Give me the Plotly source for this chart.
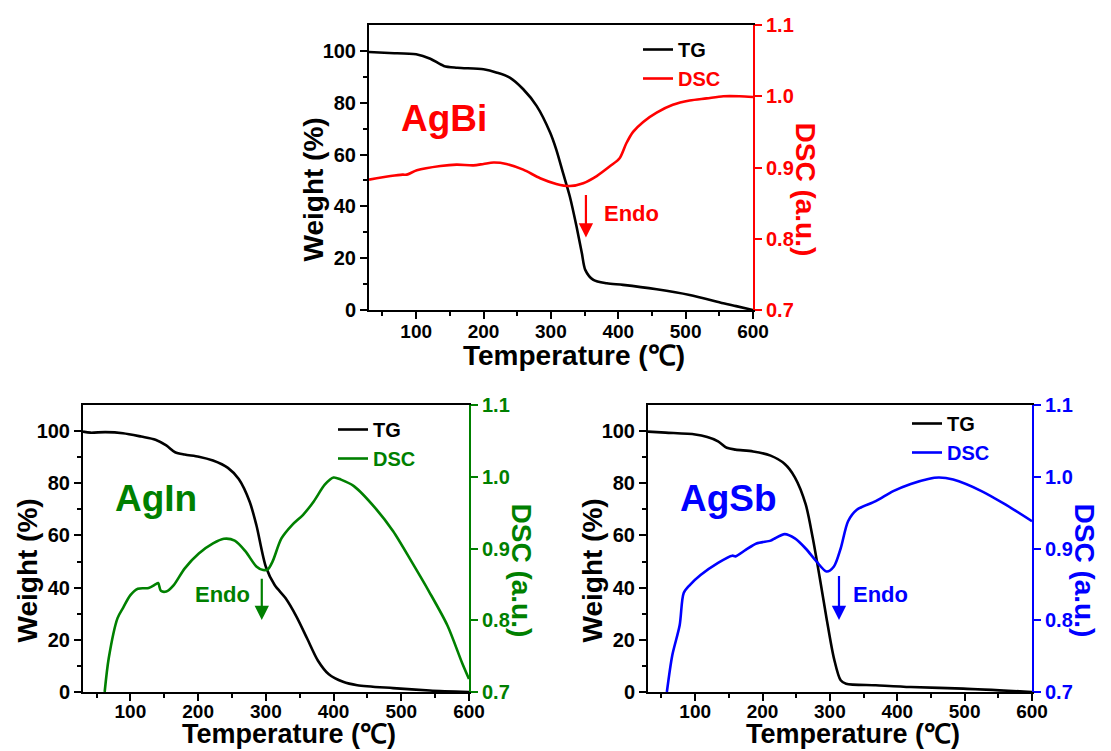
import plotly.graph_objects as go

# ---------------- data ----------------
# AgBi
agbi_tg_temp = [30, 60, 100, 121, 141, 161, 200, 220, 239, 259, 279, 299, 308, 318, 328, 338, 346, 351, 363, 383, 407, 457, 506, 556, 575, 600]
agbi_tg = [99.6, 99.2, 98.7, 97.0, 94.2, 93.5, 92.9, 91.6, 89.7, 85.2, 78.7, 68.4, 61.9, 52.9, 43.9, 32.3, 21.9, 15.5, 11.6, 10.3, 9.7, 8.0, 5.8, 2.6, 1.5, 0.0]
agbi_dsc_temp = [30, 62, 80, 86, 101, 136, 160, 185, 200, 215, 234, 259, 284, 308, 328, 348, 368, 388, 402, 412, 422, 437, 457, 481, 506, 531, 556, 580, 600]
agbi_dsc = [0.883, 0.888, 0.890, 0.890, 0.896, 0.902, 0.904, 0.903, 0.905, 0.907, 0.905, 0.897, 0.885, 0.877, 0.874, 0.878, 0.888, 0.902, 0.913, 0.934, 0.950, 0.964, 0.977, 0.988, 0.994, 0.997, 1.000, 1.000, 0.999]

# AgIn
agin_tg_temp = [30, 41, 63, 89, 116, 137, 153, 166, 180, 201, 222, 244, 260, 276, 286, 300, 313, 329, 345, 361, 377, 393, 414, 435, 488, 542, 600]
agin_tg = [99.8, 99.4, 99.6, 99.2, 97.9, 96.7, 94.5, 91.9, 91.0, 90.2, 88.7, 85.9, 81.6, 73.0, 64.0, 48.0, 41.0, 36.0, 29.0, 20.5, 12.0, 6.8, 3.9, 2.6, 1.5, 0.6, 0.0]
agin_dsc_temp = [62, 68, 81, 89, 100, 111, 127, 137, 141, 145, 153, 164, 180, 201, 222, 238, 254, 270, 286, 296, 303, 310, 323, 339, 355, 371, 387, 400, 411, 430, 462, 488, 515, 541, 568, 590, 600]
agin_dsc = [0.700, 0.747, 0.803, 0.817, 0.835, 0.844, 0.845, 0.850, 0.852, 0.841, 0.840, 0.849, 0.872, 0.893, 0.907, 0.9135, 0.911, 0.896, 0.875, 0.870, 0.871, 0.882, 0.914, 0.933, 0.947, 0.966, 0.989, 0.999, 0.996, 0.987, 0.956, 0.924, 0.882, 0.840, 0.793, 0.740, 0.718]

# AgSb
agsb_tg_temp = [30, 56, 100, 118, 134, 147, 160, 186, 212, 233, 248, 264, 274.5, 285, 295, 306, 316, 324, 368, 420, 498, 600]
agsb_tg = [99.8, 99.4, 98.7, 97.7, 96.1, 93.6, 92.9, 92.2, 90.6, 87.4, 82.3, 72.0, 59.1, 43.7, 28.3, 12.9, 4.5, 3.2, 2.6, 1.9, 1.3, 0.0]
agsb_dsc_temp = [58, 66, 77, 83, 92, 108, 134, 155, 160, 175, 191, 212, 217, 233, 248, 264, 280, 295, 306, 316, 327, 340, 368, 394, 420, 446, 462, 483, 525, 561, 600]
agsb_dsc = [0.700, 0.751, 0.793, 0.838, 0.849, 0.863, 0.880, 0.890, 0.889, 0.898, 0.907, 0.911, 0.9135, 0.920, 0.914, 0.900, 0.882, 0.868, 0.875, 0.900, 0.938, 0.954, 0.966, 0.980, 0.990, 0.997, 0.999, 0.996, 0.980, 0.961, 0.938]

x_ticks = [100, 200, 300, 400, 500, 600]
x_minor = [50, 150, 250, 350, 450, 550]
w_ticks = [0, 20, 40, 60, 80, 100]
w_minor = [10, 30, 50, 70, 90]
dsc_ticks = [0.7, 0.8, 0.9, 1.0, 1.1]

FONT = "Liberation Sans, Arial, sans-serif"
RED, GREEN, BLUE = "#ff0000", "#008000", "#0000ff"
W, H = 1111, 751

# panel boxes in pixels: (left, right, top, bottom)
panels = {
    "top": (369, 753, 25, 310),
    "bl": (83, 469, 405, 692),
    "br": (648, 1032, 405, 692),
}


def px_x(v):
    return v / W


def px_y(v):
    return 1 - v / H


def bold(size, color="black"):
    return dict(family=FONT, size=size, color=color, weight="bold")


fig = go.Figure()

layout = dict(
    width=W, height=H, margin=dict(l=0, r=0, t=0, b=0, autoexpand=False),
    paper_bgcolor="white", plot_bgcolor="white", showlegend=True,
)

# (panel key, color, tg/dsc data, label, legend id)
specs = [
    ("top", RED, agbi_tg_temp, agbi_tg, agbi_dsc_temp, agbi_dsc, "AgBi", "legend"),
    ("bl", GREEN, agin_tg_temp, agin_tg, agin_dsc_temp, agin_dsc, "AgIn", "legend2"),
    ("br", BLUE, agsb_tg_temp, agsb_tg, agsb_dsc_temp, agsb_dsc, "AgSb", "legend3"),
]

annotations = []

for i, (key, col, tgt, tg, dst, ds, label, leg) in enumerate(specs):
    l, r, t, b = panels[key]
    xname = "x" + ("" if i == 0 else str(i + 1))
    yname = "y" + ("" if i == 0 else str(2 * i + 1))
    y2name = "y" + str(2 * i + 2)

    layout["xaxis" + ("" if i == 0 else str(i + 1))] = dict(
        domain=[px_x(l), px_x(r)], anchor=yname, range=[30, 600], automargin=False,
        tickvals=x_ticks, ticks="outside", ticklen=7, tickwidth=2, tickcolor="black",
        ticklabelstandoff=-4 if key == "top" else -6,
        showline=True, linecolor="black", linewidth=2, mirror=True,
        showgrid=False, zeroline=False, tickfont=bold(19),
        minor=dict(tickvals=x_minor, ticks="outside", ticklen=4, tickwidth=2, tickcolor="black"),
    )
    layout["yaxis" + ("" if i == 0 else str(2 * i + 1))] = dict(
        domain=[px_y(b), px_y(t)], anchor=xname, range=[0, 110], automargin=False,
        tickvals=w_ticks, ticks="outside", ticklen=7, tickwidth=2, tickcolor="black",
        showline=True, linecolor="black", linewidth=2,
        showgrid=False, zeroline=False, tickfont=bold(20),
        minor=dict(tickvals=w_minor, ticks="outside", ticklen=4, tickwidth=2, tickcolor="black"),
    )
    layout["yaxis" + str(2 * i + 2)] = dict(
        domain=[px_y(b), px_y(t)], anchor=xname, overlaying=yname, side="right",
        range=[0.7, 1.1], tickvals=dsc_ticks, tickformat=".1f", automargin=False,
        ticks="outside", ticklen=7, tickwidth=2, tickcolor=col,
        showline=True, linecolor=col, linewidth=2,
        showgrid=False, zeroline=False, tickfont=bold(20, col),
    )

    fig.add_trace(go.Scatter(
        x=tgt, y=tg, name="TG", mode="lines", xaxis=xname, yaxis=yname,
        line=dict(color="black", width=2.6, shape="spline", smoothing=0.8), legend=leg,
    ))
    fig.add_trace(go.Scatter(
        x=dst, y=ds, name=f'<span style="color:{col}">DSC</span>', mode="lines",
        xaxis=xname, yaxis=y2name,
        line=dict(color=col, width=2.6, shape="spline", smoothing=0.8), legend=leg,
    ))

    # panel label
    annotations.append(dict(
        x=74, y=74, xref=xname, yref=yname, text=label, showarrow=False,
        xanchor="left", yanchor="middle", font=bold(37, col),
    ))

    # axis titles
    mid_x = (l + r) / 2 + 13
    mid_y = (t + b) / 2 + 22
    if key == "top":
        tt = dict(y=px_y(b + 45), yanchor="middle", font=bold(28))
    else:
        tt = dict(y=px_y(751), yanchor="bottom", font=bold(27))
    annotations.append(dict(
        x=px_x(mid_x), xref="paper", yref="paper",
        text="Temperature (℃)", showarrow=False, xanchor="center", **tt,
    ))
    annotations.append(dict(
        x=px_x(l - 56), y=px_y(mid_y), xref="paper", yref="paper",
        text="Weight (%)", showarrow=False, textangle=-90,
        xanchor="center", yanchor="middle", font=bold(28),
    ))
    annotations.append(dict(
        x=px_x(r + 52), y=px_y(mid_y), xref="paper", yref="paper",
        text="DSC (a.u.)", showarrow=False, textangle=90,
        xanchor="center", yanchor="middle", font=bold(28, col),
    ))

# Endo markers: (axes, color, arrow x, arrow top, arrow tip, text x, text anchor)
endo = [
    ("x", "y", RED, 352, 45, 28, 376, "left"),
    ("x2", "y3", GREEN, 294, 44, 27.6, 280, "right"),
    ("x3", "y5", BLUE, 313.5, 45, 27.6, 331, "left"),
]
for xr, yr, col, ax_, y0, y1, tx, anc in endo:
    annotations.append(dict(
        x=ax_, y=y1, ax=ax_, ay=y0, xref=xr, yref=yr, axref=xr, ayref=yr,
        text="", showarrow=True, arrowhead=2, arrowsize=1.3, arrowwidth=2.2,
        arrowcolor=col, standoff=0,
    ))
    annotations.append(dict(
        x=tx, y=37.3, xref=xr, yref=yr, text="Endo", showarrow=False,
        xanchor=anc, yanchor="middle", font=bold(22, col),
    ))

layout["annotations"] = annotations

legend_common = dict(
    xanchor="left", yanchor="top", bgcolor="rgba(0,0,0,0)",
    font=bold(20), itemwidth=30, tracegroupgap=0,
)
layout["legend"] = dict(x=px_x(638), y=px_y(30), **legend_common)
layout["legend2"] = dict(x=px_x(333), y=px_y(410), **legend_common)
layout["legend3"] = dict(x=px_x(907), y=px_y(404), **legend_common)

fig.update_layout(**layout)
fig.write_html("out.html")
